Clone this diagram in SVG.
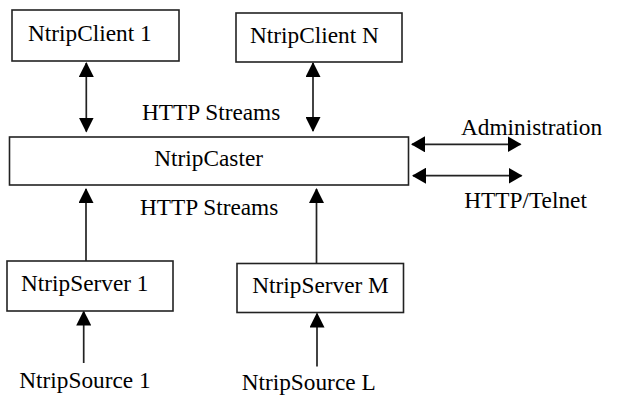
<svg xmlns="http://www.w3.org/2000/svg" width="618" height="406" viewBox="0 0 618 406">
<style>
.box{fill:#fff;stroke:#222;stroke-width:1.6}
.t{font-family:"Liberation Serif","Times New Roman",serif;font-size:23.3px;fill:#000}
.c{stroke:#222;stroke-width:1.7;fill:none}
.v{marker-end:url(#ah)}
.d{marker-start:url(#ah);marker-end:url(#ah)}
.h{marker-start:url(#ahh);marker-end:url(#ahh)}
</style>
<defs>
<marker id="ah" markerUnits="userSpaceOnUse" markerWidth="15" markerHeight="15" refX="14" refY="7.5" orient="auto-start-reverse"><path d="M0,0 L15,7.5 L0,15 Z" fill="#000"/></marker>
<marker id="ahh" markerUnits="userSpaceOnUse" markerWidth="14" markerHeight="16" refX="13" refY="8" orient="auto-start-reverse"><path d="M0,0 L14,8 L0,16 Z" fill="#000"/></marker>
</defs>
<rect width="618" height="406" fill="#fff"/>
<g id="connectors">
<line class="c d" x1="86.3" y1="63" x2="86.3" y2="131.5"/>
<line class="c d" x1="313" y1="63" x2="313" y2="131"/>
<line class="c v" x1="86" y1="261" x2="86" y2="189"/>
<line class="c v" x1="316.5" y1="263" x2="316.5" y2="189"/>
<line class="c v" x1="83.7" y1="363" x2="83.7" y2="311.5"/>
<line class="c v" x1="317" y1="366.5" x2="317" y2="313.5"/>
<line class="c h" x1="412" y1="144.3" x2="520.5" y2="144.3"/>
<line class="c h" x1="413" y1="175.7" x2="521.5" y2="175.7"/>
</g>
<g id="client1"><rect class="box" x="12" y="10" width="167" height="51"/><text class="t" x="28" y="40.7">NtripClient 1</text></g>
<g id="clientN"><rect class="box" x="236" y="13" width="166" height="49"/><text class="t" x="250" y="43">NtripClient N</text></g>
<g id="label-http-top"><text class="t" x="142" y="120">HTTP Streams</text></g>
<g id="caster"><rect class="box" x="9.5" y="137" width="399" height="48"/><text class="t" x="154.3" y="166">NtripCaster</text></g>
<g id="label-admin"><text class="t" x="461" y="135">Administration</text></g>
<g id="label-telnet"><text class="t" x="464.3" y="208">HTTP/Telnet</text></g>
<g id="label-http-bottom"><text class="t" x="140" y="215">HTTP Streams</text></g>
<g id="server1"><rect class="box" x="7" y="261" width="166" height="50"/><text class="t" x="21" y="290.7">NtripServer 1</text></g>
<g id="serverM"><rect class="box" x="237" y="263.5" width="166.5" height="49"/><text class="t" x="252.3" y="292.7">NtripServer M</text></g>
<g id="source1"><text class="t" x="19.3" y="388">NtripSource 1</text></g>
<g id="sourceL"><text class="t" x="241.7" y="390">NtripSource L</text></g>
</svg>
